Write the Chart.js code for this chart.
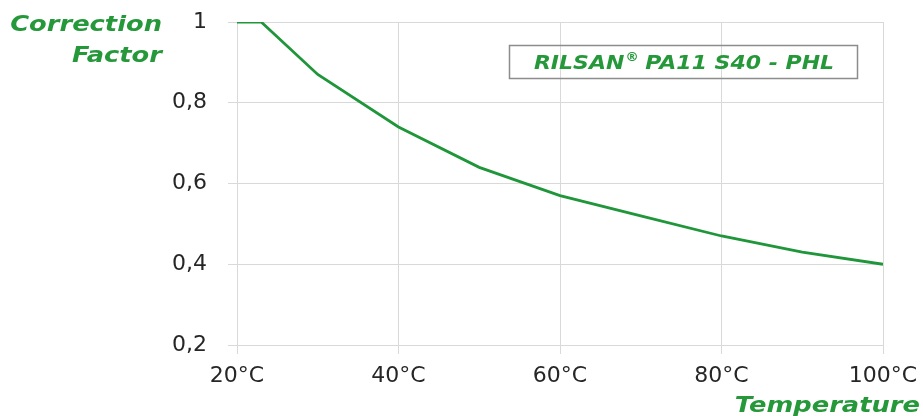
<!DOCTYPE html>
<html>
<head>
<meta charset="utf-8">
<script src="https://cdn.jsdelivr.net/npm/chart.js@4"></script>
<style>
  html, body { margin: 0; padding: 0; background: #fff; }
  #wrap { position: relative; width: 923px; height: 416px; }
</style>
</head>
<body>
<div id="wrap"><canvas id="corrChart" width="923" height="416"></canvas></div>
<script>
// values
const temperatures = [20, 23, 30, 40, 50, 60, 70, 80, 90, 100];
const correctionFactors = [1, 1, 0.87, 0.74, 0.64, 0.57, 0.52, 0.47, 0.43, 0.40];
const xTickValues = [20, 40, 60, 80, 100];
const xTickLabels = ['20°C', '40°C', '60°C', '80°C', '100°C'];
const yTickValues = [0.2, 0.4, 0.6, 0.8, 1];
const yTickLabels = ['0,2', '0,4', '0,6', '0,8', '1'];
const seriesName = ['RILSAN', '®', ' PA11 S40 - PHL'];
const yTitle = ['Correction', 'Factor'];
const xTitle = 'Temperature';

const green = '#1f963a';
const textGreen = '#25993a';
const titleFont = 'italic bold 22px "DejaVu Sans"';

// draws text stretched a little wider, right aligned at x
function wideText(ctx, text, x, y, stretch) {
    ctx.save();
    ctx.translate(x, y);
    ctx.scale(stretch, 1);
    ctx.textAlign = 'right';
    ctx.fillText(text, 0, 0);
    ctx.restore();
}

// axis titles and the boxed series label
const annotations = {
    id: 'annotations',
    afterDraw(chart) {
        const ctx = chart.ctx;
        ctx.save();
        ctx.fillStyle = textGreen;
        ctx.font = titleFont;
        ctx.textBaseline = 'alphabetic';
        wideText(ctx, yTitle[0], 162, 31, 1.17);
        wideText(ctx, yTitle[1], 162, 62, 1.17);
        wideText(ctx, xTitle, 920, 412, 1.17);

        // boxed label
        ctx.strokeStyle = '#8c8c8c';
        ctx.lineWidth = 1.5;
        ctx.strokeRect(509.5, 45.5, 348, 33);

        const big = 'italic bold 20px "DejaVu Sans"';
        const small = 'italic bold 12px "DejaVu Sans"';
        ctx.font = big;
        const w0 = ctx.measureText(seriesName[0]).width;
        const w2 = ctx.measureText(seriesName[2]).width;
        ctx.font = small;
        const w1 = ctx.measureText(seriesName[1]).width;
        const stretch = 1.1;
        const total = (w0 + w1 + w2) * stretch;
        ctx.translate(684 - total / 2, 69);
        ctx.scale(stretch, 1);
        ctx.textAlign = 'left';
        ctx.font = big;
        ctx.fillText(seriesName[0], 0, 0);
        ctx.font = small;
        ctx.fillText(seriesName[1], w0 + 1, -8);
        ctx.font = big;
        ctx.fillText(seriesName[2], w0 + w1, 0);
        ctx.restore();
    }
};

new Chart(document.getElementById('corrChart'), {
    type: 'line',
    data: {
        datasets: [{
            label: seriesName.join(''),
            data: temperatures.map((t, i) => ({ x: t, y: correctionFactors[i] })),
            borderColor: green,
            borderWidth: 2.8,
            pointRadius: 0,
            tension: 0,
            fill: false
        }]
    },
    options: {
        responsive: false,
        animation: false,
        layout: { padding: { top: 22, right: 40, left: 0, bottom: 0 } },
        plugins: {
            legend: { display: false },
            tooltip: { enabled: false }
        },
        scales: {
            x: {
                type: 'linear',
                min: 20,
                max: 100,
                afterBuildTicks: (scale) => { scale.ticks = xTickValues.map(v => ({ value: v })); },
                afterFit: (scale) => {
                    scale.height = 71;
                    scale.paddingLeft = 0;
                    scale.paddingRight = 0;
                },
                ticks: {
                    padding: 9,
                    maxRotation: 0,
                    color: '#262626',
                    font: { size: 22, family: 'DejaVu Sans' },
                    callback: (v) => xTickLabels[xTickValues.indexOf(v)]
                },
                grid: { color: '#d9d9d9', tickLength: 9 },
                border: { color: '#d9d9d9' }
            },
            y: {
                min: 0.2,
                max: 1,
                afterBuildTicks: (scale) => { scale.ticks = yTickValues.map(v => ({ value: v })); },
                afterFit: (scale) => {
                    scale.width = 237;
                    scale.paddingTop = 0;
                    scale.paddingBottom = 0;
                },
                ticks: {
                    padding: 21,
                    color: '#262626',
                    font: { size: 22, family: 'DejaVu Sans' },
                    callback: (v) => yTickLabels[yTickValues.indexOf(v)]
                },
                grid: { color: '#d9d9d9', tickLength: 9 },
                border: { color: '#d9d9d9' }
            }
        }
    },
    plugins: [annotations]
});
</script>
</body>
</html>
